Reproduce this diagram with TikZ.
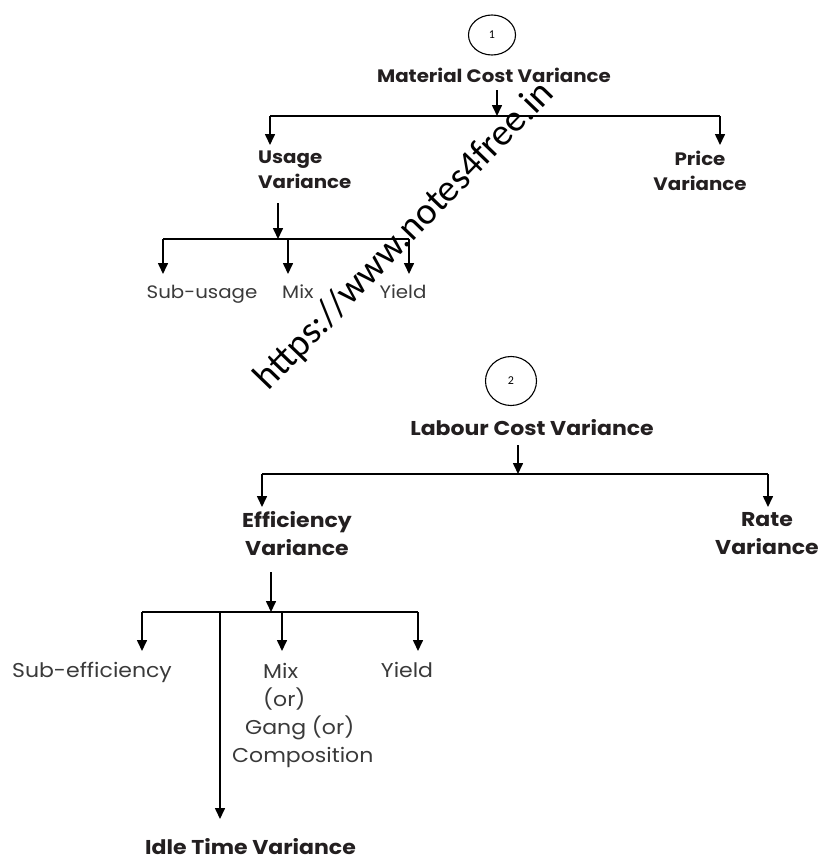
\documentclass[tikz,border=0pt]{standalone}
\usepackage{fontspec}
\setmainfont{Poppins}[FakeStretch=1.1]
\newfontfamily\numfont{Carlito}
\usetikzlibrary{arrows.meta,shapes.geometric}
\definecolor{txt}{HTML}{231F20}
\definecolor{reg}{HTML}{3A3A3A}
\tikzset{
  conn/.style={line width=1.6pt},
  arr/.style={line width=1.6pt,-{Triangle[length=11pt,width=10pt]}},
  numcirc/.style={ellipse,draw,line width=1.1pt,inner sep=0pt,font=\numfont\fontsize{12}{12}\selectfont},
  headA/.style={inner sep=0pt,anchor=base,text=txt,font=\bfseries\fontsize{18}{25}\selectfont},
  headB/.style={inner sep=0pt,anchor=base,text=txt,font=\bfseries\fontsize{20}{28}\selectfont},
  leafA/.style={inner sep=0pt,anchor=base,text=reg,font=\fontsize{18}{28}\selectfont},
  leafB/.style={inner sep=0pt,anchor=base,text=reg,font=\fontsize{20}{28}\selectfont},
}
\begin{document}
\begin{tikzpicture}[x=1pt,y=-1pt]
\useasboundingbox (0,0) rectangle (820,859);
% ---------- Part 1 ----------
\node[numcirc,minimum width=47pt,minimum height=40pt] (c1) at (492,35) {1};
\node[headA] (mcv) at (494,82) {Material Cost Variance};
\coordinate (j1) at (497,116);
\coordinate (l1) at (270,116);
\coordinate (r1) at (720,116);
\draw[arr] (j1 |- 0,90) -- (j1);
\draw[conn] (l1) -- (r1);
\node[headA,align=left,anchor=north west] (uv) at (258,151) {Usage\\Variance};
\node[headA,align=center,anchor=north] (pv) at (700,151) {Price\\Variance};
\draw[arr] (l1) -- (270,145);
\draw[arr] (r1) -- (720,145);
\coordinate (j2) at (278,239);
\coordinate (l2) at (163,239);
\coordinate (m2) at (288,239);
\coordinate (r2) at (409,239);
\draw[arr] (278,203) -- (j2);
\draw[conn] (l2) -- (r2);
\node[leafA] (su) at (202,298) {Sub-usage};
\node[leafA,anchor=base west] (mx) at (282,298) {Mix};
\node[leafA] (yd) at (403,298) {Yield};
\draw[arr] (l2) -- (163,274);
\draw[arr] (m2) -- (288,274);
\draw[arr] (r2) -- (409,274);
% ---------- Part 2 ----------
\node[numcirc,minimum width=51pt,minimum height=49pt] (c2) at (511,381) {2};
\node[headB] (lcv) at (532,435) {Labour Cost Variance};
\coordinate (j3) at (518,474);
\coordinate (l3) at (262,474);
\coordinate (r3) at (768,474);
\draw[arr] (518,445) -- (j3);
\draw[conn] (l3) -- (r3);
\node[headB,align=center,anchor=north] (ev) at (297,511) {Efficiency\\Variance};
\node[headB,align=center,anchor=north] (rv) at (767,512) {Rate\\Variance};
\draw[arr] (l3) -- (262,507);
\draw[arr] (r3) -- (768,507);
\coordinate (j4) at (271,612);
\coordinate (l4) at (142,612);
\coordinate (i4) at (220,612);
\coordinate (m4) at (282,612);
\coordinate (r4) at (418,612);
\draw[arr] (271,572) -- (j4);
\draw[conn] (l4) -- (r4);
\node[leafB] (se) at (92,677) {Sub-efficiency};
\node[leafB,align=left,anchor=north west] (mg) at (232,663) {\hspace*{31pt}Mix\\\hspace*{31pt}(or)\\\hspace*{13pt}Gang (or)\\Composition};
\node[leafB] (yl) at (407,677) {Yield};
\node[headB,anchor=base west] (it) at (145,854) {Idle Time Variance};
\draw[arr] (l4) -- (142,651);
\draw[arr] (m4) -- (282,651);
\draw[arr] (r4) -- (418,651);
\draw[arr] (i4) -- (220,819);
% ---------- watermark ----------
\node[rotate=46,inner sep=0pt,font=\numfont\fontsize{38}{38}\selectfont] (wm) at (405,236) {https://www.notes4free.in};
\end{tikzpicture}
\end{document}
